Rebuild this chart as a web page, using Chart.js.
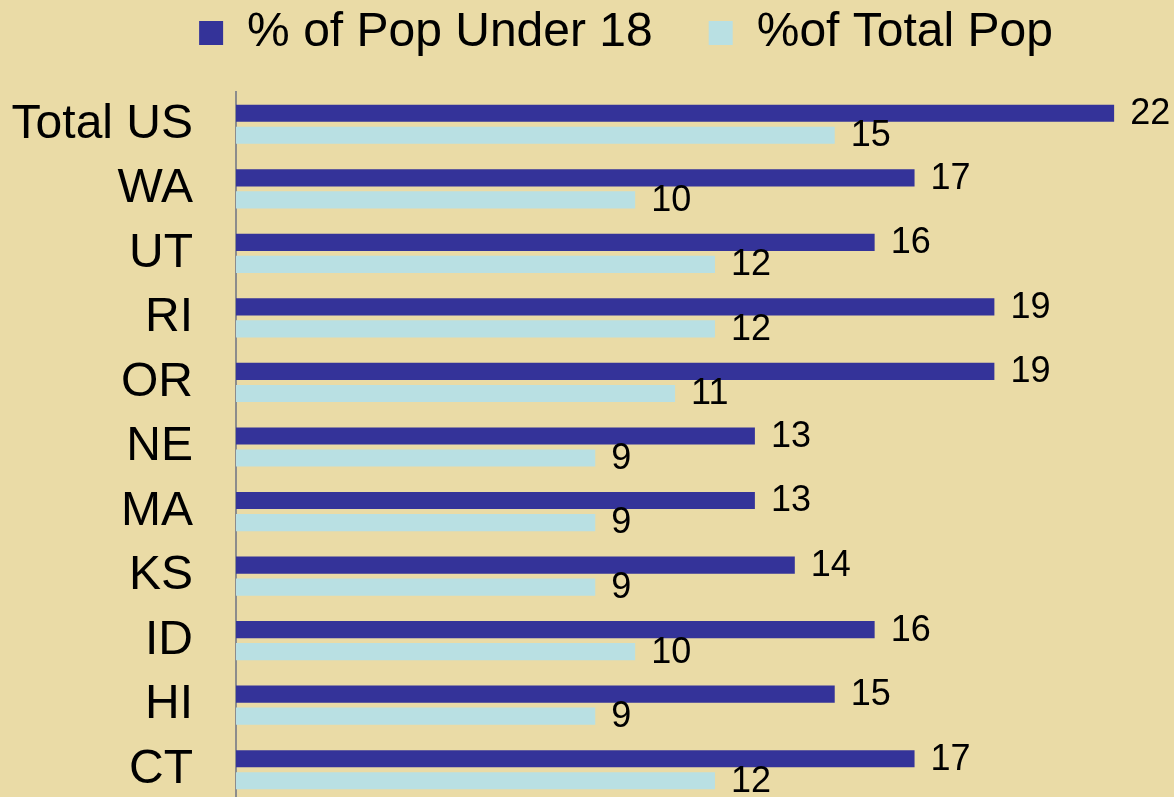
<!DOCTYPE html>
<html>
<head>
<meta charset="utf-8">
<script src="https://cdn.jsdelivr.net/npm/chart.js@4.4.1/dist/chart.umd.min.js"></script>
<style>
  html, body { margin: 0; padding: 0; background: #EADBA6; overflow: hidden; }
  #wrap { position: absolute; left: 0; top: 0; width: 1174px; height: 802px; }
</style>
</head>
<body>
<div id="wrap"><canvas id="grafico" width="1174" height="802"></canvas></div>
<script>
// dados
const categorias = ['Total US', 'WA', 'UT', 'RI', 'OR', 'NE', 'MA', 'KS', 'ID', 'HI', 'CT'];
const popMenor18 = [22, 17, 16, 19, 19, 13, 13, 14, 16, 15, 17];
const popTotal = [15, 10, 12, 12, 11, 9, 9, 9, 10, 9, 12];
const nomesSeries = ['% of Pop Under 18', '%of Total Pop'];

Chart.defaults.font.family = "'Liberation Sans', Arial, sans-serif";
Chart.defaults.color = '#000';

// escreve o valor à direita de cada barra
const rotulosValores = {
    id: 'rotulosValores',
    afterDatasetsDraw(chart) {
        const ctx = chart.ctx;
        ctx.save();
        ctx.font = "36px 'Liberation Sans', Arial, sans-serif";
        ctx.fillStyle = '#000';
        ctx.textAlign = 'left';
        ctx.textBaseline = 'middle';
        chart.data.datasets.forEach((ds, i) => {
            chart.getDatasetMeta(i).data.forEach((bar, j) => {
                ctx.fillText(ds.data[j], bar.x + 16, bar.y + 1);
            });
        });
        ctx.restore();
    }
};

new Chart(document.getElementById('grafico'), {
    type: 'bar',
    data: {
        labels: categorias,
        datasets: [
            {
                label: nomesSeries[0],
                data: popMenor18,
                backgroundColor: '#343399',
                borderWidth: 0,
                categoryPercentage: 0.682,
                barPercentage: 0.78
            },
            {
                label: nomesSeries[1],
                data: popTotal,
                backgroundColor: '#B9E0E3',
                borderWidth: 0,
                categoryPercentage: 0.682,
                barPercentage: 0.78
            }
        ]
    },
    options: {
        indexAxis: 'y',
        responsive: false,
        animation: false,
        // padding negativo: só para posicionar a legenda como no original
        layout: { padding: { top: -47, left: 0, right: -78, bottom: 0 } },
        plugins: {
            legend: {
                position: 'top',
                align: 'center',
                labels: {
                    boxWidth: 24,
                    boxHeight: 24,
                    padding: 56,
                    font: { size: 48 }
                }
            },
            tooltip: { enabled: false }
        },
        scales: {
            x: {
                position: 'top',
                min: 0,
                max: 23.5,
                ticks: { display: false },
                grid: { display: false },
                border: { display: false },
                afterFit(scale) { scale.height = 25; }
            },
            y: {
                ticks: { font: { size: 48 }, padding: 43, autoSkip: false },
                grid: { display: false, drawTicks: false },
                border: { display: true, color: '#8C8C8C', width: 2 },
                afterFit(scale) {
                    scale.width = 236;
                    scale.paddingTop = 0;
                    scale.paddingBottom = 0;
                }
            }
        }
    },
    plugins: [rotulosValores]
});
</script>
</body>
</html>
